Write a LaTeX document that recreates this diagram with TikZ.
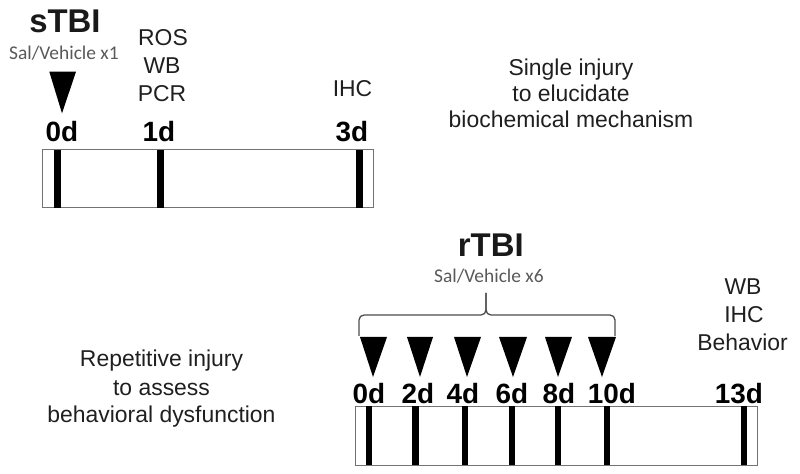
\documentclass[tikz,border=0pt]{standalone}
\usepackage{fontspec}
\setmainfont{Liberation Sans}
\newfontfamily\calib{Carlito}
\begin{document}
\begin{tikzpicture}[x=1bp,y=-1bp,
  txt/.style={font=\fontsize{23}{26}\selectfont, text=black!88, anchor=base, inner sep=0},
  day/.style={font=\fontsize{28}{30}\selectfont\bfseries, anchor=base, inner sep=0},
  ttl/.style={font=\fontsize{33}{36}\selectfont\bfseries, text=black!90, anchor=base, inner sep=0},
  sal/.style={font=\calib\fontsize{19.5}{22}\selectfont, text=black!65, anchor=base, inner sep=0},
  tl/.style={draw=black!55, line width=1bp, fill=white},
  bar/.style={fill=black, draw=none, inner sep=0, minimum width=7bp, minimum height=58bp},
  tri/.style={fill=black, draw=none},
  brc/.style={draw=black!70, line width=1.3bp, rounded corners=5bp}]
\useasboundingbox (0,0) rectangle (800,474);

% ---------- sTBI ----------
\node[ttl] (stbi) at (65,33) {sTBI};
\node[sal] (sal1) at (64,60) {Sal/Vehicle x1};
\fill[tri] (49.3,71.7) -- (76,71.7) -- (62,113.3) -- cycle;

\node[txt] (ros) at (163,46) {ROS};
\node[txt] (wb1) at (162,74) {WB};
\node[txt] (pcr) at (162,102) {PCR};
\node[txt] (ihc1) at (352.5,97) {IHC};

\node[day] (s0) at (62,142) {0d};
\node[day] (s1) at (159,142) {1d};
\node[day] (s3) at (352,142) {3d};

\draw[tl] (42.5,150) rectangle (373,208);
\node[bar] (sb0) at (57.7,179) {};
\node[bar] (sb1) at (160.5,179) {};
\node[bar] (sb3) at (359,179) {};

\node[txt] (si1) at (571,76) {Single injury};
\node[txt] (si2) at (571,102) {to elucidate};
\node[txt] (si3) at (571,128) {biochemical mechanism};

% ---------- rTBI ----------
\node[ttl] (rtbi) at (490.8,257) {rTBI};
\node[sal] (sal6) at (489,283) {Sal/Vehicle x6};
\coordinate (bl) at (359,336);
\coordinate (br) at (615,336);
\coordinate (bm) at (486,315);
\coordinate (bt) at (486,293);
\draw[brc] (bl) -- (359,315) -- (bm) -- (bt);
\draw[brc] (br) -- (615,315) -- (bm) -- (bt);

\foreach \cx/\l/\r in {373/360/387, 420/407/433, 467/454/481, 513/499/527, 558/545/572, 602/588/616}{
  \fill[tri] (\l,337) -- (\r,337) -- (\cx,377) -- cycle;
}

\node[txt] (wb2) at (743,295) {WB};
\node[txt] (ihc2) at (744,323) {IHC};
\node[txt] (beh) at (742.5,351) {Behavior};

\node[day] (r0) at (369,403) {0d};
\node[day] (r2) at (418,403) {2d};
\node[day] (r4) at (463,403) {4d};
\node[day] (r6) at (512,403) {6d};
\node[day] (r8) at (559,403) {8d};
\node[day] (r10) at (612,403) {10d};
\node[day] (r13) at (739,403) {13d};

\draw[tl] (355,406) rectangle (757,465);
\node[bar, minimum width=6.5bp, minimum height=59bp] (rb0) at (369,435.5) {};
\node[bar, minimum width=6.5bp, minimum height=59bp] (rb2) at (415.7,435.5) {};
\node[bar, minimum width=6.5bp, minimum height=59bp] (rb4) at (465,435.5) {};
\node[bar, minimum width=6.5bp, minimum height=59bp] (rb6) at (512,435.5) {};
\node[bar, minimum width=6.5bp, minimum height=59bp] (rb8) at (558,435.5) {};
\node[bar, minimum width=6.5bp, minimum height=59bp] (rb10) at (607,435.5) {};
\node[bar, minimum width=6.5bp, minimum height=59bp] (rb13) at (744,435.5) {};

\node[txt] (ri1) at (161.5,367) {Repetitive injury};
\node[txt] (ri2) at (161.5,395) {to assess};
\node[txt] (ri3) at (161.5,422) {behavioral dysfunction};
\end{tikzpicture}
\end{document}
